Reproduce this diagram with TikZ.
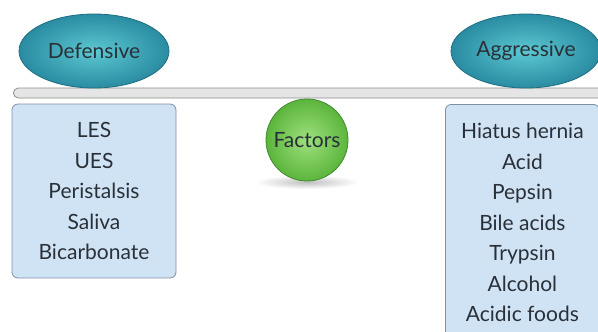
\documentclass[tikz,border=0pt]{standalone}
\usepackage{fontspec}
\setmainfont{Lato}
\usetikzlibrary{shapes.geometric}

\definecolor{tealfill}{HTML}{5CC8D2}
\definecolor{tealdark}{HTML}{2A8CA2}
\definecolor{tealline}{HTML}{1F6F80}
\definecolor{boxfill}{HTML}{D0E3F4}
\definecolor{boxline}{HTML}{7F8FA6}
\definecolor{ballin}{HTML}{9EE07E}
\definecolor{ballgreen}{HTML}{5CB53C}
\definecolor{ballline}{HTML}{3F8A2C}
\definecolor{textgray}{HTML}{2A3038}

\tikzset{
  side/.style={ellipse, draw=tealline, line width=0.8pt, inner color=tealfill, outer color=tealdark,
    minimum width=150pt, minimum height=74pt, text=textgray, font=\fontsize{21}{25}\selectfont},
  factorlist/.style={rectangle, rounded corners=6pt, draw=boxline, line width=0.8pt, fill=boxfill,
    align=center, text=textgray, font=\fontsize{21}{30.5}\selectfont},
  beam/.style={rectangle, rounded corners=5pt, draw=black!45, line width=0.8pt, fill=black!10}
}

\begin{document}
\begin{tikzpicture}[x=1pt, y=-1pt]

\useasboundingbox (0,0) rectangle (598,332);
\clip (0,0) rectangle (598,332);

% shadow of the ball
\shade[inner color=black!25, outer color=white] (307,182) ellipse (52pt and 7pt);

% the beam
\node[beam, minimum width=600pt, minimum height=10pt, anchor=west] (bar) at (13,93) {};

% the two sides
\node[side] (def) at (94,51) {Defensive};
\node[side] (agg) at (526,51) {Aggressive};

% lists under the beam
\node[factorlist, minimum width=164pt, minimum height=174pt] (def-list) at (94,191)
  {LES\\UES\\Peristalsis\\Saliva\\Bicarbonate};
\node[factorlist, minimum width=154pt, minimum height=236pt, anchor=north west] (agg-list) at (445,104)
  {Hiatus hernia\\Acid\\Pepsin\\Bile acids\\Trypsin\\Alcohol\\Acidic foods};

% fulcrum
\node[circle, draw=ballline, line width=0.8pt, inner color=ballin, outer color=ballgreen, minimum size=82pt,
  text=textgray, font=\fontsize{21}{25}\selectfont] (factors) at (307,140) {Factors};

\end{tikzpicture}
\end{document}
